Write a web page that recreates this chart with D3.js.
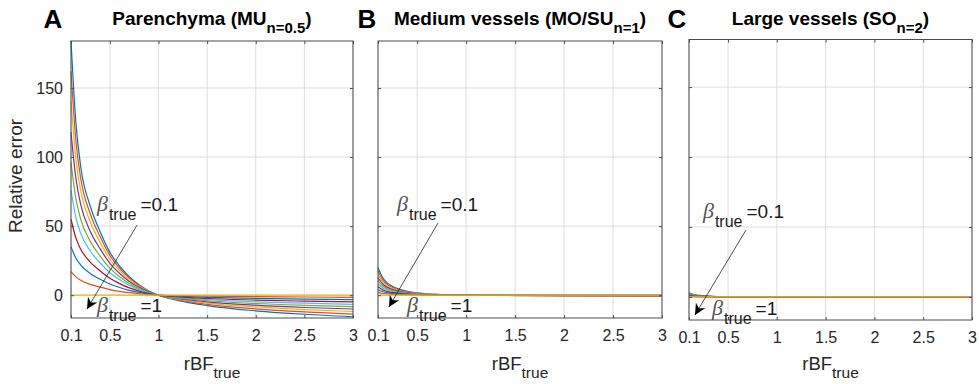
<!DOCTYPE html>
<html>
<head>
<meta charset="utf-8">
<script src="https://cdn.jsdelivr.net/npm/d3@7"></script>
<style>
body { margin: 0; background: #fff; }
text { font-family: "Liberation Sans", Arial, sans-serif; }
</style>
</head>
<body>
<svg id="chart"></svg>
<script>
const rbfTrue = [0.1, 0.15, 0.2, 0.3, 0.4, 0.5, 0.6, 0.7, 0.8, 0.9, 1, 1.25, 1.5, 2, 2.5, 3];
const betaTrue = [0.1, 0.2, 0.3, 0.4, 0.5, 0.6, 0.7, 0.8, 0.9, 1];
const xTicks = [0.1, 0.5, 1, 1.5, 2, 2.5, 3];
const yTicks = [0, 50, 100, 150];
const yDomain = [-16.5, 184];

// one row per beta_true
const parenchymaErr = [
    [184, 125, 93, 64, 46, 31, 21, 13.4, 7.5, 3.1, 0, -4.5, -7.5, -11.3, -13.8, -15.6],
    [162, 112, 84.5, 58.6, 42.3, 28.7, 19.5, 12.5, 7.0, 2.9, 0, -3.9, -6.6, -9.9, -12.1, -13.7],
    [140, 98.7, 75.5, 52.6, 38.2, 26.0, 17.8, 11.3, 6.4, 2.7, 0, -3.4, -5.7, -8.5, -10.4, -11.8],
    [118, 84.7, 65.6, 46.0, 33.5, 23.0, 15.7, 10.0, 5.7, 2.4, 0, -2.9, -4.8, -7.2, -8.9, -10],
    [96, 70.1, 55.0, 38.8, 28.3, 19.6, 13.4, 8.5, 4.8, 2.1, 0, -2.4, -4.0, -6.0, -7.3, -8.3],
    [76, 56.4, 44.8, 31.8, 23.3, 16.2, 11.1, 7.1, 4.0, 1.7, 0, -1.9, -3.2, -4.8, -5.8, -6.6],
    [55, 41.5, 33.3, 23.8, 17.5, 12.2, 8.4, 5.3, 3.0, 1.3, 0, -1.4, -2.4, -3.5, -4.3, -4.9],
    [35, 26.9, 21.8, 15.6, 11.5, 8.1, 5.6, 3.5, 2.0, 0.9, 0, -0.9, -1.5, -2.3, -2.8, -3.2],
    [17, 13.3, 10.9, 7.8, 5.8, 4.1, 2.8, 1.8, 1.0, 0.44, 0, -0.4, -0.7, -1.1, -1.3, -1.5],
    [0, 0, 0, 0, 0, 0, 0, 0, 0, 0, 0, 0, 0, 0, 0, 0]
];

const mediumErr = [
    [20, 12.4, 8.6, 4.8, 2.8, 1.7, 1.0, 0.6, 0.34, 0.14, 0, -0.15, -0.25, -0.38, -0.46, -0.52],
    [17.5, 10.9, 7.5, 4.2, 2.45, 1.5, 0.88, 0.53, 0.3, 0.12, 0, -0.13, -0.22, -0.33, -0.4, -0.46],
    [15.2, 9.4, 6.5, 3.6, 2.1, 1.3, 0.76, 0.46, 0.26, 0.11, 0, -0.11, -0.19, -0.29, -0.35, -0.4],
    [12.8, 7.9, 5.5, 3.1, 1.8, 1.1, 0.64, 0.38, 0.22, 0.09, 0, -0.1, -0.16, -0.24, -0.29, -0.33],
    [10.5, 6.5, 4.5, 2.5, 1.5, 0.9, 0.53, 0.32, 0.18, 0.07, 0, -0.08, -0.13, -0.2, -0.24, -0.27],
    [8.3, 5.1, 3.6, 2.0, 1.2, 0.7, 0.42, 0.25, 0.14, 0.06, 0, -0.06, -0.1, -0.16, -0.19, -0.22],
    [6.1, 3.8, 2.6, 1.5, 0.85, 0.52, 0.3, 0.18, 0.1, 0.04, 0, -0.05, -0.08, -0.12, -0.14, -0.16],
    [4, 2.5, 1.7, 0.96, 0.56, 0.34, 0.2, 0.12, 0.07, 0.03, 0, -0.03, -0.05, -0.08, -0.09, -0.1],
    [2, 1.24, 0.86, 0.48, 0.28, 0.17, 0.1, 0.06, 0.03, 0.01, 0, -0.015, -0.025, -0.04, -0.05, -0.05],
    [0, 0, 0, 0, 0, 0, 0, 0, 0, 0, 0, 0, 0, 0, 0, 0]
];

const largeErr = [
    [3, 1.65, 1.05, 0.5, 0.27, 0.15, 0.09, 0.05, 0.02, 0.01, 0, -0.02, -0.03, -0.05, -0.06, -0.07],
    [2.7, 1.5, 0.95, 0.46, 0.24, 0.14, 0.08, 0.04, 0.02, 0.01, 0, -0.02, -0.03, -0.04, -0.05, -0.06],
    [2.4, 1.3, 0.84, 0.41, 0.22, 0.12, 0.07, 0.04, 0.02, 0.01, 0, -0.02, -0.03, -0.04, -0.05, -0.05],
    [2.0, 1.1, 0.7, 0.34, 0.18, 0.1, 0.06, 0.03, 0.02, 0.01, 0, -0.01, -0.02, -0.03, -0.04, -0.04],
    [1.7, 0.94, 0.6, 0.29, 0.15, 0.09, 0.05, 0.03, 0.01, 0, 0, -0.01, -0.02, -0.03, -0.03, -0.04],
    [1.3, 0.72, 0.46, 0.22, 0.12, 0.07, 0.04, 0.02, 0.01, 0, 0, -0.01, -0.01, -0.02, -0.02, -0.03],
    [1.0, 0.55, 0.35, 0.17, 0.09, 0.05, 0.03, 0.015, 0.01, 0, 0, -0.01, -0.01, -0.02, -0.02, -0.02],
    [0.65, 0.36, 0.23, 0.11, 0.06, 0.03, 0.02, 0.01, 0, 0, 0, 0, -0.01, -0.01, -0.01, -0.01],
    [0.3, 0.17, 0.1, 0.05, 0.03, 0.02, 0.01, 0, 0, 0, 0, 0, 0, 0, 0, 0],
    [0, 0, 0, 0, 0, 0, 0, 0, 0, 0, 0, 0, 0, 0, 0, 0]
];

// matlab default line colours
const colors = ["#0072BD", "#D95319", "#EDB120", "#7E2F8E", "#77AC30", "#4DBEEE", "#A2142F"];

let width = 979;
let height = 384;

let svg = d3.select("#chart");

const panels = [
    {letter: "A", letterX: 53, title: "Parenchyma (MU", sub: "n=0.5", data: parenchymaErr,
     left: 71, right: 353, top: 41, bottom: 318, yLabels: true,
     hi: [0.367, 61], lo: [0.367, -12.5], from: [0.78, 50.8], to: [0.265, -10]},
    {letter: "B", letterX: 367, title: "Medium vessels (MO/SU", sub: "n=1", data: mediumErr,
     left: 378, right: 662, top: 41, bottom: 318, yLabels: false,
     hi: [0.294, 61], lo: [0.396, -12.5], from: [0.713, 52.3], to: [0.212, -8.5]},
    {letter: "C", letterX: 677, title: "Large vessels (SO", sub: "n=2", data: largeErr,
     left: 689, right: 972, top: 39.5, bottom: 320, yLabels: false,
     hi: [0.243, 56.4], lo: [0.336, -12.9], from: [0.684, 47.8], to: [0.161, -12.9]}
];

const drawCanvas = () => {
    svg.attr("width", width).attr("height", height);
    svg.append("defs").append("marker")
        .attr("id", "head")
        .attr("viewBox", "0 0 10 10")
        .attr("refX", 10)
        .attr("refY", 5)
        .attr("markerWidth", 13)
        .attr("markerHeight", 11)
        .attr("markerUnits", "userSpaceOnUse")
        .attr("orient", "auto")
        .append("path")
        .attr("d", "M0,0 L10,5 L0,10 L3,5 Z")
        .attr("fill", "#000");
};

const betaText = (g, x, y, value) => {
    let t = g.append("text")
        .attr("x", x)
        .attr("y", y)
        .attr("font-size", 19)
        .attr("fill", "#1a1a1a");
    t.append("tspan").text("β")
        .attr("font-family", "Liberation Serif, serif")
        .attr("font-style", "italic")
        .attr("font-size", 22)
        .attr("fill", "#555");
    t.append("tspan").text("true")
        .attr("dx", 1)
        .attr("dy", 9)
        .attr("font-size", 16);
    t.append("tspan").text("=" + value)
        .attr("dx", 4)
        .attr("dy", -9);
};

const drawPanel = (p) => {
    let xScale = d3.scaleLinear().domain([0.1, 3]).range([p.left, p.right]);
    let yScale = d3.scaleLinear().domain(yDomain).range([p.bottom, p.top]);
    let g = svg.append("g");

    // grid
    g.selectAll(".vgrid")
        .data(xTicks)
        .enter()
        .append("line")
        .attr("x1", (d) => xScale(d))
        .attr("x2", (d) => xScale(d))
        .attr("y1", p.top)
        .attr("y2", p.bottom)
        .attr("stroke", "#dedede");
    g.selectAll(".hgrid")
        .data(yTicks)
        .enter()
        .append("line")
        .attr("x1", p.left)
        .attr("x2", p.right)
        .attr("y1", (d) => yScale(d))
        .attr("y2", (d) => yScale(d))
        .attr("stroke", "#dedede");

    // curves
    let line = d3.line()
        .x((d, i) => xScale(rbfTrue[i]))
        .y((d) => yScale(d))
        .curve(d3.curveMonotoneX);

    g.selectAll(".curve")
        .data(p.data)
        .enter()
        .append("path")
        .attr("d", line)
        .attr("fill", "none")
        .attr("stroke", (d, i) => colors[i % colors.length])
        .attr("stroke-width", 1.2);

    // axes, ticks pointing inward
    let bottomAxis = d3.axisBottom(xScale).tickValues(xTicks).tickSize(-3).tickPadding(12).tickFormat(d3.format(""));
    let topAxis = d3.axisTop(xScale).tickValues(xTicks).tickSize(-3).tickFormat("");
    let leftAxis = d3.axisLeft(yScale).tickValues(yTicks).tickSize(-3).tickPadding(8)
        .tickFormat(p.yLabels ? d3.format("") : "");
    let rightAxis = d3.axisRight(yScale).tickValues(yTicks).tickSize(-3).tickFormat("");

    const styleAxis = (a) => {
        a.select(".domain").remove();
        a.selectAll("line").attr("stroke", "#4d4d4d");
        a.selectAll("text").attr("font-size", 16).attr("fill", "#262626")
            .attr("font-family", "Liberation Sans, Arial, sans-serif");
    };

    g.append("g").attr("transform", "translate(0," + p.bottom + ")").call(bottomAxis).call(styleAxis);
    g.append("g").attr("transform", "translate(0," + p.top + ")").call(topAxis).call(styleAxis);
    g.append("g").attr("transform", "translate(" + p.left + ",0)").call(leftAxis).call(styleAxis);
    g.append("g").attr("transform", "translate(" + p.right + ",0)").call(rightAxis).call(styleAxis);

    g.append("rect")
        .attr("x", p.left)
        .attr("y", p.top)
        .attr("width", p.right - p.left)
        .attr("height", p.bottom - p.top)
        .attr("fill", "none")
        .attr("stroke", "#4d4d4d")
        .attr("stroke-width", 1);

    // title and panel letter
    let cx = (p.left + p.right) / 2;
    let title = g.append("text")
        .attr("x", cx)
        .attr("y", 25)
        .attr("text-anchor", "middle")
        .attr("font-weight", "bold")
        .attr("font-size", 19)
        .attr("fill", "#000");
    title.append("tspan").text(p.title);
    title.append("tspan").text(p.sub).attr("dy", 8).attr("font-size", 15);
    title.append("tspan").text(")").attr("dy", -8);

    g.append("text")
        .attr("x", p.letterX)
        .attr("y", 28)
        .attr("text-anchor", "middle")
        .attr("font-weight", "bold")
        .attr("font-size", 26)
        .attr("fill", "#000")
        .text(p.letter);

    // x label
    let xl = g.append("text")
        .attr("x", cx)
        .attr("y", 370)
        .attr("text-anchor", "middle")
        .attr("font-size", 18.5)
        .attr("fill", "#262626");
    xl.append("tspan").text("rBF");
    xl.append("tspan").text("true").attr("dy", 8).attr("font-size", 15.5);

    // annotation
    g.append("line")
        .attr("x1", xScale(p.from[0]))
        .attr("y1", yScale(p.from[1]))
        .attr("x2", xScale(p.to[0]))
        .attr("y2", yScale(p.to[1]))
        .attr("stroke", "#222")
        .attr("stroke-width", 0.8)
        .attr("marker-end", "url(#head)");
    betaText(g, xScale(p.hi[0]), yScale(p.hi[1]), betaTrue[0]);
    betaText(g, xScale(p.lo[0]), yScale(p.lo[1]), betaTrue[betaTrue.length - 1]);
};

drawCanvas();
panels.forEach(drawPanel);

svg.append("text")
    .attr("transform", "translate(22,176) rotate(-90)")
    .attr("text-anchor", "middle")
    .attr("font-size", 19)
    .attr("fill", "#262626")
    .text("Relative error");
</script>
</body>
</html>
